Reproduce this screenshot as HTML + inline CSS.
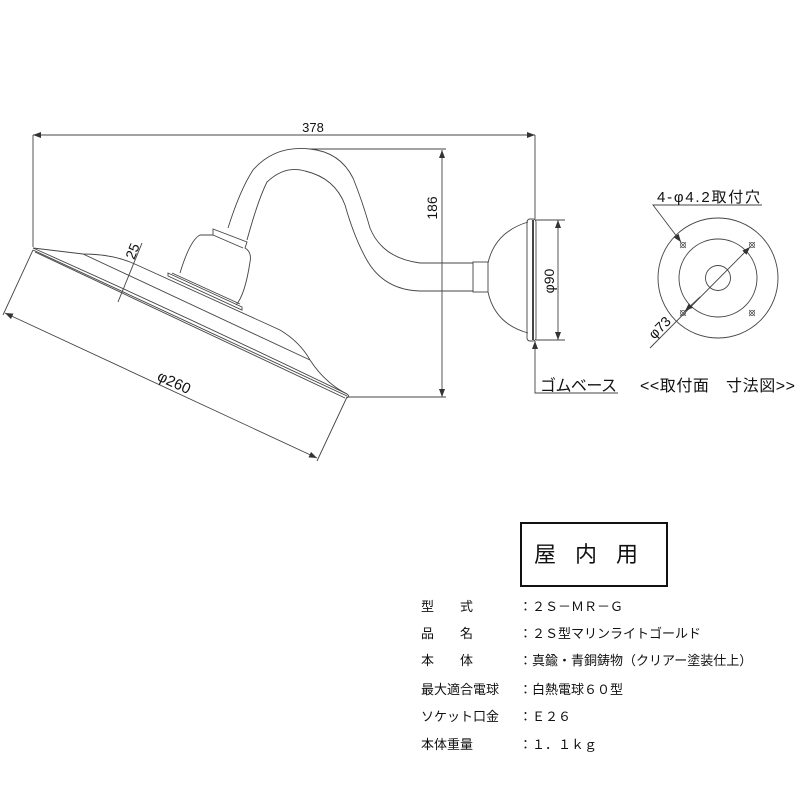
<!DOCTYPE html>
<html><head><meta charset="utf-8"><style>
html,body{margin:0;padding:0;background:#fff;}
svg{display:block;}
text{font-family:"Liberation Sans","Noto Sans CJK JP",sans-serif;fill:#111;}
</style></head><body>
<svg width="800" height="800" viewBox="0 0 800 800" xmlns="http://www.w3.org/2000/svg">
<defs>
<marker id="a" markerWidth="8" markerHeight="6" refX="8" refY="3" orient="auto" markerUnits="userSpaceOnUse"><path d="M0,0 L8,3 L0,6 z" fill="#333"/></marker>
<marker id="b" markerWidth="8" markerHeight="6" refX="0" refY="3" orient="auto" markerUnits="userSpaceOnUse"><path d="M8,0 L0,3 L8,6 z" fill="#333"/></marker>
</defs>
<g fill="none" stroke="#444" stroke-width="0.9">
<line x1="33" y1="135" x2="535" y2="135" marker-start="url(#b)" marker-end="url(#a)"/>
<line x1="33" y1="135" x2="33" y2="247"/>
<line x1="535" y1="135" x2="535" y2="220"/>
<path d="M33,248 L83,254 Q110,254 130,262 L137,265 L280,330 Q300,342 310,360 Q325,383 347,394"/>
<path d="M83,254 L310,360"/>
<path d="M33,248 Q190,318 347,394"/>
<path d="M33,250 L347,396"/>
<path d="M35,252 L345,398"/>
<path d="M347,394 Q350,396 347,398"/>
<line x1="33" y1="250" x2="3" y2="315"/>
<line x1="347" y1="397" x2="317" y2="461"/>
<line x1="5" y1="313" x2="317" y2="458" marker-start="url(#b)" marker-end="url(#a)"/>
<line x1="118" y1="302" x2="142" y2="243"/>
<path d="M168,273 L242,307 L242,310 L168,276 Z"/>
<path d="M172,273 L240,304"/>
<path d="M180,273 Q190,240 200,235 L213,235 L213,229 L247,242 L245,248 Q252,252 250,262 Q245,295 236,305"/>
<path d="M213,235 L243,248"/>
<path d="M228,228 Q240,190 253,170 Q275,145 310,149 Q340,152 353,178 Q362,200 370,228 Q382,258 420,263 L473,263"/>
<path d="M247,240 Q258,200 267,182 Q285,165 305,171 Q335,178 345,205 Q355,240 368,262 Q385,290 420,291 L473,291"/>
<rect x="473" y="262" width="15" height="30"/>
<path d="M488,263 Q495,232 528,222"/>
<path d="M488,292 Q495,324 528,333"/>
<rect x="527" y="219" width="9" height="122" rx="3"/>
<line x1="533" y1="220" x2="533" y2="340" stroke-width="2"/>
<line x1="310" y1="149" x2="446" y2="149"/>
<line x1="347" y1="397" x2="446" y2="397"/>
<line x1="442" y1="150" x2="442" y2="397" marker-start="url(#b)" marker-end="url(#a)"/>
<line x1="536" y1="220" x2="565" y2="220"/>
<line x1="536" y1="340" x2="565" y2="340"/>
<line x1="558" y1="220" x2="558" y2="340" marker-start="url(#b)" marker-end="url(#a)"/>
<path d="M535,341 L535,393 L618,393" marker-start="url(#b)"/>
<circle cx="718" cy="278" r="60"/>
<circle cx="718" cy="278" r="39"/>
<circle cx="718" cy="278" r="12.5"/>
<g stroke-width="0.7">
<path d="M680,242 l6,6 M686,242 l-6,6 M749,242 l6,6 M755,242 l-6,6 M680,310 l6,6 M686,310 l-6,6 M749,310 l6,6 M755,310 l-6,6"/>
<circle cx="683" cy="245" r="2.5"/><circle cx="752" cy="245" r="2.5"/><circle cx="683" cy="313" r="2.5"/><circle cx="752" cy="313" r="2.5"/>
</g>
<path d="M762,205 L653,205 L681,242" marker-end="url(#a)"/>
<line x1="650" y1="348" x2="750" y2="247" marker-end="url(#a)"/>
<line x1="700" y1="297" x2="685" y2="311" marker-end="url(#a)"/>
<rect x="521" y="523" width="146" height="63" stroke="#111" stroke-width="2"/>
</g>
<text x="313" y="132" font-size="13" text-anchor="middle">378</text>
<text transform="translate(137,253) rotate(-68)" font-size="14" text-anchor="middle">25</text>
<text transform="translate(172,387) rotate(24.6)" font-size="15" text-anchor="middle">φ260</text>
<text transform="translate(437,208) rotate(-90)" font-size="14" text-anchor="middle">186</text>
<text transform="translate(554,281) rotate(-90)" font-size="14" text-anchor="middle">φ90</text>
<text transform="translate(663,331) rotate(-45)" font-size="14" text-anchor="middle">φ73</text>
<text x="657" y="202" font-size="15" textLength="103">4-φ4.2取付穴</text>
<text x="540" y="391" font-size="16" textLength="77">ゴムベース</text>
<text x="640" y="391" font-size="16" textLength="155">&lt;&lt;取付面　寸法図&gt;&gt;</text>
<text x="534" y="562" font-size="22" letter-spacing="19">屋内用</text>
<g font-size="13">
<text x="421" y="611">型　　式</text><text x="519" y="611">：２Ｓ－ＭＲ－Ｇ</text>
<text x="421" y="638">品　　名</text><text x="519" y="638">：２Ｓ型マリンライトゴールド</text>
<text x="421" y="665">本　　体</text><text x="519" y="665">：真鍮・青銅鋳物（クリアー塗装仕上）</text>
<text x="421" y="694">最大適合電球</text><text x="519" y="694">：白熱電球６０型</text>
<text x="421" y="721">ソケット口金</text><text x="519" y="721">：Ｅ２６</text>
<text x="421" y="749">本体重量</text><text x="519" y="749">：１．１ｋｇ</text>
</g>
</svg>
</body></html>
